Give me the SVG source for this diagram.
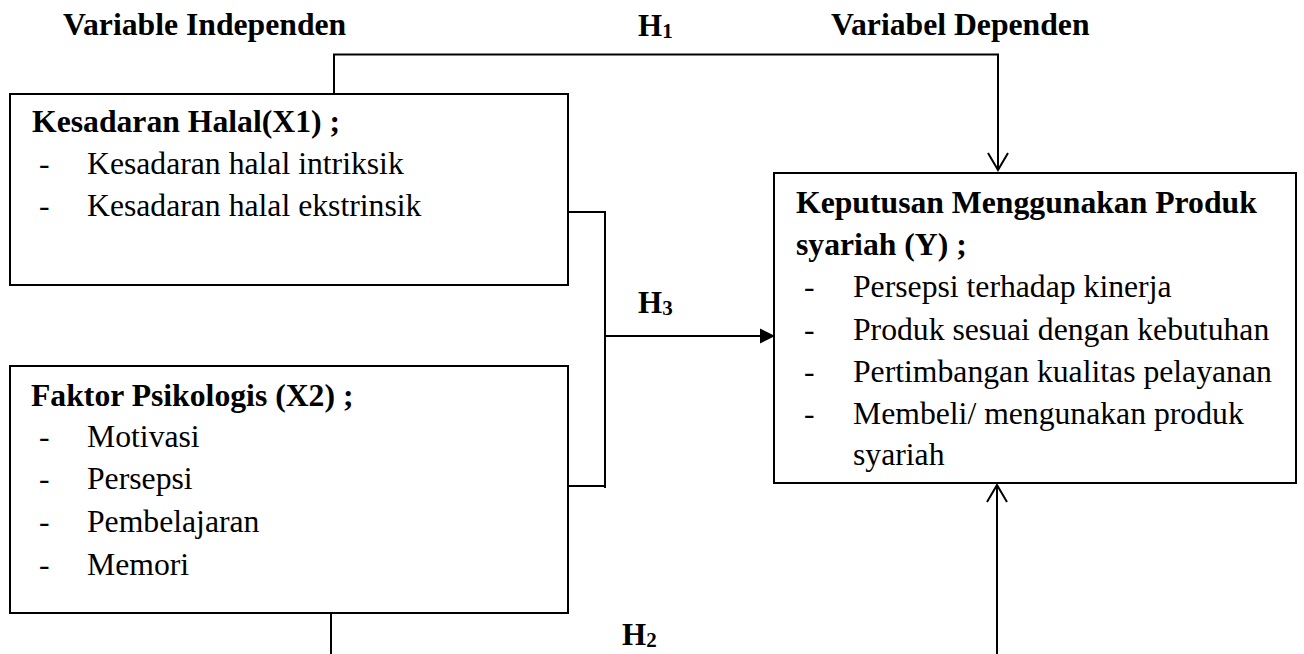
<svg xmlns="http://www.w3.org/2000/svg" width="1304" height="654" viewBox="0 0 1304 654">
  <style>
    text { font-family: "Liberation Serif", "Times New Roman", serif; fill: #000; }
    .t { font-size: 31.7px; }
    .b { font-weight: bold; }
    .h { font-size: 31px; font-weight: bold; }
    .sub { font-size: 21px; }
    .box { fill: #fff; stroke: #000; stroke-width: 2; }
    .ln { fill: none; stroke: #000; stroke-width: 2; }
  </style>
  <rect width="1304" height="654" fill="#fff"/>

  <g id="labels">
    <text class="t b" x="63" y="35">Variable Independen</text>
    <text class="t b" x="831" y="35">Variabel Dependen</text>
    <text class="h" x="638" y="36">H<tspan class="sub" dy="2">1</tspan></text>
    <text class="h" x="638" y="313">H<tspan class="sub" dy="2">3</tspan></text>
    <text class="h" x="622" y="645">H<tspan class="sub" dy="2">2</tspan></text>
  </g>

  <g id="connectors">
    <path class="ln" d="M334,94 V54.5 H998 V170"/>
    <path class="ln" d="M988,153 L998,170 L1008,153"/>
    <path class="ln" d="M568,212 H605 V488"/>
    <path class="ln" d="M568,486 H605"/>
    <path class="ln" d="M605,336 H762"/>
    <polygon points="760,328.5 775,336 760,343.5" fill="#000"/>
    <path class="ln" d="M331,613 V654"/>
    <path class="ln" d="M997,654 V485"/>
    <path class="ln" d="M987,502 L997,485 L1007,502"/>
  </g>

  <g id="x1">
    <rect class="box" x="10" y="94" width="558" height="191"/>
    <text class="t b" x="32" y="132">Kesadaran Halal(X1) ;</text>
    <text class="t" x="39" y="174">-</text>
    <text class="t" x="87" y="174">Kesadaran halal intriksik</text>
    <text class="t" x="39" y="216">-</text>
    <text class="t" x="87" y="216">Kesadaran halal ekstrinsik</text>
  </g>

  <g id="x2">
    <rect class="box" x="10" y="366" width="558" height="247"/>
    <text class="t b" x="31" y="406">Faktor Psikologis (X2) ;</text>
    <text class="t" x="39" y="447">-</text>
    <text class="t" x="87" y="447">Motivasi</text>
    <text class="t" x="39" y="489">-</text>
    <text class="t" x="87" y="489">Persepsi</text>
    <text class="t" x="39" y="532">-</text>
    <text class="t" x="87" y="532">Pembelajaran</text>
    <text class="t" x="39" y="575">-</text>
    <text class="t" x="87" y="575">Memori</text>
  </g>

  <g id="y">
    <rect class="box" x="774" y="173" width="522" height="310"/>
    <text class="t b" x="796" y="213">Keputusan Menggunakan Produk</text>
    <text class="t b" x="796" y="255">syariah (Y) ;</text>
    <text class="t" x="804" y="297">-</text>
    <text class="t" x="853" y="297">Persepsi terhadap kinerja</text>
    <text class="t" x="804" y="340">-</text>
    <text class="t" x="853" y="340">Produk sesuai dengan kebutuhan</text>
    <text class="t" x="804" y="382">-</text>
    <text class="t" x="853" y="382">Pertimbangan kualitas pelayanan</text>
    <text class="t" x="804" y="424">-</text>
    <text class="t" x="853" y="424">Membeli/ mengunakan produk</text>
    <text class="t" x="853" y="465">syariah</text>
  </g>
</svg>
